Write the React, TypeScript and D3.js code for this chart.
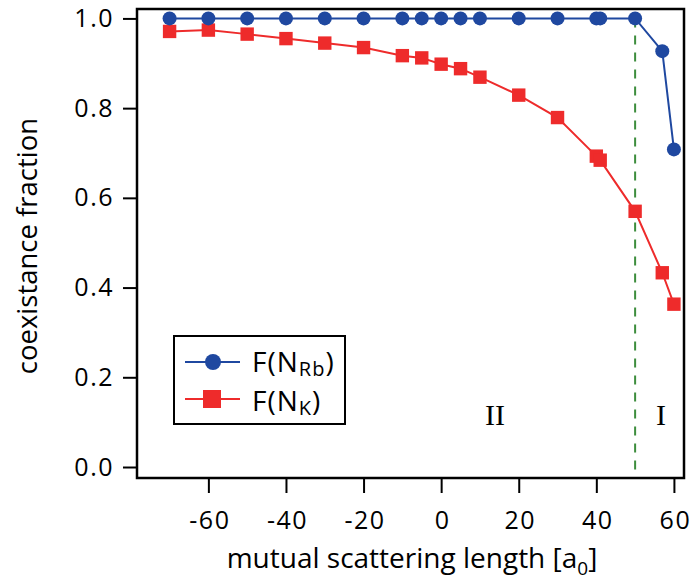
import React, { useEffect, useRef } from 'react'
import { select, scaleLinear, axisLeft, axisBottom, line } from 'd3'

// scattering length in a0
const rbLengths = [-70, -60, -50, -40, -30, -20, -10, -5, 0, 5, 10, 20, 30, 40, 41, 50, 57, 60]
const rbFraction = [1, 1, 1, 1, 1, 1, 1, 1, 1, 1, 1, 1, 1, 1, 1, 1, 0.927, 0.708]

const kLengths = [-70, -60, -50, -40, -30, -20, -10, -5, 0, 5, 10, 20, 30, 40, 41, 50, 57, 60]
const kFraction = [0.971, 0.974, 0.965, 0.955, 0.945, 0.935, 0.917, 0.912, 0.898, 0.888, 0.869, 0.829, 0.779, 0.693, 0.684, 0.57, 0.433, 0.363]

const xTicks = [-60, -40, -20, 0, 20, 40, 60]
const yTicks = [0, 0.2, 0.4, 0.6, 0.8, 1.0]
const boundary = 50

const W = 691
const H = 580
const m = { left: 137, right: 7, top: 9, bottom: 102 }
const FONT = '"Open Sans", "DejaVu Sans", sans-serif'
const SERIF = '"Liberation Serif", "DejaVu Serif", serif'
const BLUE = '#1f48a0'
const RED = '#ee2b2b'

const App = () => {
  const svgRef = useRef()

  useEffect(() => {
    const svg = select(svgRef.current)

    const x = scaleLinear().domain([-78.4, 62.6]).range([m.left, W - m.right])
    const y = scaleLinear().domain([-0.0245, 1.021]).range([H - m.bottom, m.top])

    const xAxis = axisBottom(x).tickValues(xTicks).tickSize(15).tickFormat(d => String(d))
    svg.select('.x-axis')
      .attr('transform', `translate(0,${H - m.bottom})`)
      .call(xAxis)
      .call(g => g.select('.domain').remove())
      .call(g => g.selectAll('.tick text').attr('y', 51).attr('dy', 0).attr('dx', 1))

    const yAxis = axisLeft(y).tickValues(yTicks).tickSize(14).tickPadding(9).tickFormat(d => d.toFixed(1))
    svg.select('.y-axis')
      .attr('transform', `translate(${m.left},0)`)
      .call(yAxis)
      .call(g => g.select('.domain').remove())

    svg.selectAll('.tick line').attr('stroke', '#000').attr('stroke-width', 2)
    svg.selectAll('.tick text')
      .attr('fill', '#000')
      .style('font-family', FONT)
      .style('font-size', '25px')
      .style('letter-spacing', '1.5px')

    svg.select('.frame')
      .attr('x', m.left).attr('y', m.top)
      .attr('width', W - m.left - m.right).attr('height', H - m.top - m.bottom)

    svg.select('.boundary')
      .attr('x1', x(boundary)).attr('x2', x(boundary))
      .attr('y1', y(1)).attr('y2', H - m.bottom)

    const pathOf = line().x(d => x(d[0])).y(d => y(d[1]))
    const rb = rbLengths.map((v, i) => [v, rbFraction[i]])
    const k = kLengths.map((v, i) => [v, kFraction[i]])

    svg.select('.rb-line').attr('d', pathOf(rb))
    svg.select('.k-line').attr('d', pathOf(k))

    svg.select('.rb-pts').selectAll('circle')
      .data(rb)
      .join('circle')
      .attr('cx', d => x(d[0]))
      .attr('cy', d => y(d[1]))
      .attr('r', 7)
      .attr('fill', BLUE)

    svg.select('.k-pts').selectAll('rect')
      .data(k)
      .join('rect')
      .attr('x', d => x(d[0]) - 6.7)
      .attr('y', d => y(d[1]) - 6.7)
      .attr('width', 13.4)
      .attr('height', 13.4)
      .attr('fill', RED)
  }, [])

  return (
    <svg ref={svgRef} width={W} height={H} style={{ position: 'absolute', left: 0, top: 0 }}>
      <rect width={W} height={H} fill='#fff' />
      <line className='boundary' stroke='#3d8d3d' strokeWidth={2} strokeDasharray='9,8' />
      <path className='rb-line' fill='none' stroke={BLUE} strokeWidth={2} />
      <path className='k-line' fill='none' stroke={RED} strokeWidth={2} />
      <g className='k-pts' />
      <g className='rb-pts' />
      <rect className='frame' fill='none' stroke='#000' strokeWidth={2.5} />
      <g className='x-axis' />
      <g className='y-axis' />

      <text x={495} y={425} textAnchor='middle' fontFamily={SERIF} fontSize={30}>II</text>
      <text x={661} y={425} textAnchor='middle' fontFamily={SERIF} fontSize={30}>I</text>

      <g fontFamily={FONT} fill='#000'>
        <text transform='translate(37,246) rotate(-90)' textAnchor='middle' fontSize={27.5}>
          coexistance fraction
        </text>
        <text x={412} y={568} textAnchor='middle' fontSize={28}>
          mutual scattering length [a<tspan fontSize={19} dy={7}>0</tspan><tspan dy={-7}>]</tspan>
        </text>
      </g>

      <g>
        <rect x={174} y={336} width={171} height={88} fill='#fff' stroke='#000' strokeWidth={2} />
        <line x1={185} x2={240} y1={362} y2={362} stroke={BLUE} strokeWidth={2} />
        <circle cx={213} cy={362} r={8} fill={BLUE} />
        <line x1={185} x2={240} y1={399} y2={399} stroke={RED} strokeWidth={2} />
        <rect x={203} y={390} width={18} height={18} fill={RED} />
        <g fontFamily={FONT} fontSize={28} fill='#000' letterSpacing={1}>
          <text x={252} y={372}>F(N<tspan fontSize={20} dy={4}>Rb</tspan><tspan dy={-4}>)</tspan></text>
          <text x={252} y={411}>F(N<tspan fontSize={20} dy={4}>K</tspan><tspan dy={-4}>)</tspan></text>
        </g>
      </g>
    </svg>
  )
}

export default App
